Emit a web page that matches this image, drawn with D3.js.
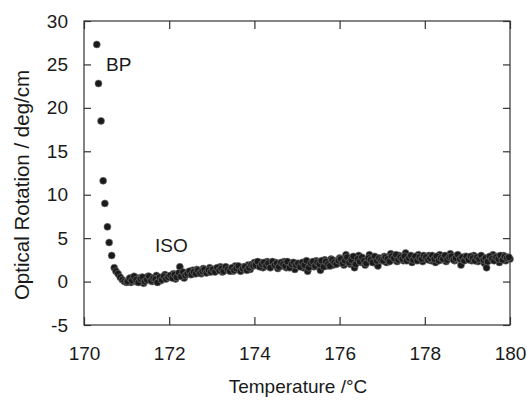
<!DOCTYPE html>
<meta charset="utf-8">
<script src="https://d3js.org/d3.v7.min.js"></script>
<style>
  body { margin: 0; background: #fff; }
  text { font-family: "Liberation Sans", Arial, sans-serif; fill: #1a1a1a; }
</style>
<div id="my_dataviz"></div>
<script>
// BP region: steep drop
var bpTemps = [170.30, 170.34, 170.40, 170.45, 170.49, 170.55, 170.59, 170.65, 170.71, 170.75];
var bpValues = [27.3, 22.8, 18.5, 11.6, 9.0, 6.3, 4.5, 3.0, 1.6, 1.2];

// ISO region: flat band
var isoTemps = [
  170.80, 170.85, 170.90, 170.95, 171.00,
  171.05, 171.10, 171.15, 171.20, 171.25, 171.30, 171.35, 171.40, 171.45, 171.50,
  171.55, 171.60, 171.65, 171.70, 171.75, 171.80, 171.85, 171.90, 171.95, 172.00,
  172.05, 172.10, 172.15, 172.20, 172.25, 172.30, 172.35, 172.40, 172.45, 172.50,
  172.55, 172.60, 172.65, 172.70, 172.75, 172.80, 172.85, 172.90, 172.95, 173.00,
  173.05, 173.10, 173.15, 173.20, 173.25, 173.30, 173.35, 173.40, 173.45, 173.50,
  173.55, 173.60, 173.65, 173.70, 173.75, 173.80, 173.85, 173.90, 173.95, 174.00,
  174.05, 174.10, 174.15, 174.20, 174.25, 174.30, 174.35, 174.40, 174.45, 174.50,
  174.55, 174.60, 174.65, 174.70, 174.75, 174.80, 174.85, 174.90, 174.95, 175.00,
  175.05, 175.10, 175.15, 175.20, 175.25, 175.30, 175.35, 175.40, 175.45, 175.50,
  175.55, 175.60, 175.65, 175.70, 175.75, 175.80, 175.85, 175.90, 175.95, 176.00,
  176.05, 176.10, 176.15, 176.20, 176.25, 176.30, 176.35, 176.40, 176.45, 176.50,
  176.55, 176.60, 176.65, 176.70, 176.75, 176.80, 176.85, 176.90, 176.95, 177.00,
  177.05, 177.10, 177.15, 177.20, 177.25, 177.30, 177.35, 177.40, 177.45, 177.50,
  177.55, 177.60, 177.65, 177.70, 177.75, 177.80, 177.85, 177.90, 177.95, 178.00,
  178.05, 178.10, 178.15, 178.20, 178.25, 178.30, 178.35, 178.40, 178.45, 178.50,
  178.55, 178.60, 178.65, 178.70, 178.75, 178.80, 178.85, 178.90, 178.95, 179.00,
  179.05, 179.10, 179.15, 179.20, 179.25, 179.30, 179.35, 179.40, 179.45, 179.50,
  179.55, 179.60, 179.65, 179.70, 179.75, 179.80, 179.85, 179.90, 179.95, 180.00
];
var isoValues = [
  0.9, 0.5, 0.2, 0.0, -0.1,
  0.2, -0.1, 0.3, 0.0, 0.4, 0.1, 0.5, -0.2, 0.3, 0.6,
  0.2, 0.0, 0.4, 0.7, 0.3, 0.1, 0.5, 0.8, 0.4, 0.6,
  0.5, 0.9, 0.3, 0.7, 1.7, 0.6, 0.4, 0.9, 1.1, 0.8,
  1.3, 1.0, 1.4, 1.2, 0.9, 1.5, 1.3, 1.1, 1.6, 1.4,
  1.2, 1.5, 1.3, 1.7, 1.1, 1.4, 1.6, 1.3, 1.5, 1.2,
  1.8, 1.4, 1.6, 1.3, 1.7, 1.5, 1.9, 1.4, 2.0, 2.2,
  2.1, 1.8, 2.2, 1.6, 2.0, 2.3, 1.7, 2.1, 1.9, 2.2,
  1.5, 2.0, 1.8, 2.3, 1.6, 2.1, 1.9, 2.2, 1.4, 2.0,
  1.8, 2.1, 1.6, 2.3, 1.2, 1.9, 2.2, 1.7, 2.4, 2.0,
  1.3, 2.1, 2.5, 1.8, 2.2, 2.6, 1.9, 2.4, 2.1, 2.7,
  2.3, 1.9, 3.1, 2.5, 2.0, 2.8, 1.6, 2.4, 3.0, 2.2,
  2.6, 1.9, 2.5, 3.1, 2.3, 2.7, 2.1, 1.8, 2.6, 2.4,
  2.9, 2.2, 2.6, 3.2, 2.5, 2.8, 2.3, 3.0, 2.7, 2.4,
  3.3, 2.6, 2.9, 2.2, 2.8, 2.5, 3.1, 2.7, 2.3, 2.9,
  2.6, 3.0, 2.4, 2.8, 2.2, 2.7, 3.1, 2.5, 2.9, 2.3,
  2.8, 3.2, 2.6, 2.4, 3.0, 2.7, 1.9, 2.5, 2.9, 2.6,
  2.8, 2.4, 3.0, 2.6, 2.3, 2.9, 2.7, 2.1, 1.6, 2.8,
  2.5, 3.1, 2.6, 2.9, 2.2, 2.7, 3.0, 2.4, 2.8, 2.6
];

// second, interleaved run of readings in the same band
var isoTemps2 = [
  171.025, 171.075, 171.125, 171.175, 171.225, 171.275, 171.325, 171.375, 171.425, 171.475,
  171.525, 171.575, 171.625, 171.675, 171.725, 171.775, 171.825, 171.875, 171.925, 171.975,
  172.025, 172.075, 172.125, 172.175, 172.225, 172.275, 172.325, 172.375, 172.425, 172.475,
  172.525, 172.575, 172.625, 172.675, 172.725, 172.775, 172.825, 172.875, 172.925, 172.975,
  173.025, 173.075, 173.125, 173.175, 173.225, 173.275, 173.325, 173.375, 173.425, 173.475,
  173.525, 173.575, 173.625, 173.675, 173.725, 173.775, 173.825, 173.875, 173.925, 173.975,
  174.025, 174.075, 174.125, 174.175, 174.225, 174.275, 174.325, 174.375, 174.425, 174.475,
  174.525, 174.575, 174.625, 174.675, 174.725, 174.775, 174.825, 174.875, 174.925, 174.975,
  175.025, 175.075, 175.125, 175.175, 175.225, 175.275, 175.325, 175.375, 175.425, 175.475,
  175.525, 175.575, 175.625, 175.675, 175.725, 175.775, 175.825, 175.875, 175.925, 175.975,
  176.025, 176.075, 176.125, 176.175, 176.225, 176.275, 176.325, 176.375, 176.425, 176.475,
  176.525, 176.575, 176.625, 176.675, 176.725, 176.775, 176.825, 176.875, 176.925, 176.975,
  177.025, 177.075, 177.125, 177.175, 177.225, 177.275, 177.325, 177.375, 177.425, 177.475,
  177.525, 177.575, 177.625, 177.675, 177.725, 177.775, 177.825, 177.875, 177.925, 177.975,
  178.025, 178.075, 178.125, 178.175, 178.225, 178.275, 178.325, 178.375, 178.425, 178.475,
  178.525, 178.575, 178.625, 178.675, 178.725, 178.775, 178.825, 178.875, 178.925, 178.975,
  179.025, 179.075, 179.125, 179.175, 179.225, 179.275, 179.325, 179.375, 179.425, 179.475,
  179.525, 179.575, 179.625, 179.675, 179.725, 179.775, 179.825, 179.875, 179.925, 179.975
];
var isoValues2 = [
  0.0, 0.4, 0.1, 0.6, 0.2, -0.1, 0.3, 0.5, 0.0, 0.2, 0.6, 0.1, 0.4, 0.3, -0.1, 0.5, 0.2, 0.6, 0.3, 0.5,
  0.7, 0.4, 0.8, 0.5, 1.0, 0.6, 1.1, 0.7, 0.9, 1.2, 0.8, 1.1, 0.9, 1.3, 1.0, 1.2, 1.4, 1.0, 1.3, 1.1,
  1.4, 1.1, 1.6, 1.3, 1.5, 1.2, 1.7, 1.4, 1.2, 1.6, 1.3, 1.5, 1.8, 1.2, 1.5, 1.7, 1.3, 1.6, 1.9, 1.8,
  1.9, 2.3, 1.7, 2.0, 2.2, 1.8, 2.1, 1.6, 2.3, 1.9, 2.1, 1.7, 2.2, 2.0, 1.8, 2.3, 1.6, 2.0, 2.2, 1.9,
  2.1, 1.7, 2.2, 1.9, 2.4, 1.6, 2.1, 2.3, 1.8, 2.2, 2.0, 2.4, 1.7, 2.3, 2.0, 1.8, 2.5, 2.2, 2.0, 2.4,
  2.6, 2.1, 2.4, 2.8, 2.2, 2.5, 2.9, 2.0, 2.6, 2.3, 2.8, 2.4, 2.1, 2.7, 2.5, 2.2, 2.9, 2.4, 2.7, 2.5,
  2.4, 2.8, 2.6, 2.3, 2.9, 2.7, 3.1, 2.5, 2.8, 2.6, 2.9, 2.4, 2.7, 3.0, 2.5, 2.9, 2.4, 2.8, 2.6, 3.0,
  2.8, 2.5, 2.7, 3.0, 2.6, 2.9, 2.4, 2.7, 2.6, 3.0, 2.5, 2.8, 2.9, 2.5, 2.7, 3.1, 2.6, 2.8, 2.4, 2.9,
  2.5, 2.9, 2.7, 2.4, 2.8, 2.6, 3.0, 2.5, 2.7, 2.3, 2.9, 2.6, 2.4, 2.8, 2.6, 3.0, 2.5, 2.9, 2.7, 2.8
];

var xTicks = [170, 172, 174, 176, 178, 180];
var yTicks = [-5, 0, 5, 10, 15, 20, 25, 30];

var width = 527, height = 404;
var margin = { left: 84, right: 17, top: 21, bottom: 79 };

var xScale = d3.scaleLinear().domain([170, 180]).range([margin.left, width - margin.right]);
var yScale = d3.scaleLinear().domain([-5, 30]).range([height - margin.bottom, margin.top]);

var svg = d3.select("#my_dataviz")
  .append("svg")
  .attr("width", width)
  .attr("height", height);

// frame
svg.append("rect")
  .attr("x", margin.left)
  .attr("y", margin.top)
  .attr("width", width - margin.left - margin.right)
  .attr("height", height - margin.top - margin.bottom)
  .attr("fill", "none")
  .attr("stroke", "#333")
  .attr("stroke-width", 1.2);

// axes, ticks pointing inward
var xAxis = d3.axisBottom(xScale).tickValues(xTicks).tickSize(-8).tickPadding(22).tickFormat(d3.format("d"));
var yAxis = d3.axisLeft(yScale).tickValues(yTicks).tickSize(-7).tickPadding(16)
  .tickFormat(function (d) { return String(d); }); // plain hyphen for -5

svg.append("g")
  .attr("transform", `translate(0,${height - margin.bottom})`)
  .call(xAxis);

svg.append("g")
  .attr("transform", `translate(${margin.left},0)`)
  .call(yAxis);

// mirrored ticks on top and right
svg.append("g")
  .attr("transform", `translate(0,${margin.top})`)
  .call(d3.axisTop(xScale).tickValues(xTicks).tickSize(-8).tickFormat(""));

svg.append("g")
  .attr("transform", `translate(${width - margin.right},0)`)
  .call(d3.axisRight(yScale).tickValues(yTicks).tickSize(-7).tickFormat(""));

svg.selectAll(".domain").remove();
svg.selectAll(".tick line").attr("stroke", "#333").attr("stroke-width", 1.2);
svg.selectAll(".tick text").style("font-size", "19px").attr("fill", "#1a1a1a");

// points
var points = bpTemps.map(function (t, i) { return [t, bpValues[i]]; })
  .concat(isoTemps.map(function (t, i) { return [t, isoValues[i]]; }))
  .concat(isoTemps2.map(function (t, i) { return [t, isoValues2[i]]; }));

svg.append("g")
  .selectAll("circle")
  .data(points)
  .enter()
  .append("circle")
  .attr("cx", function (d) { return xScale(d[0]); })
  .attr("cy", function (d) { return yScale(d[1]); })
  .attr("r", 3.5)
  .attr("fill", "#1a1a1a")
  .attr("stroke", "#777")
  .attr("stroke-width", 0.6);

// annotations
svg.append("text")
  .attr("x", 106)
  .attr("y", 71)
  .style("font-size", "19px")
  .text("BP");

svg.append("text")
  .attr("x", 155)
  .attr("y", 252)
  .style("font-size", "19px")
  .text("ISO");

// axis titles
svg.append("text")
  .attr("text-anchor", "middle")
  .attr("x", 298)
  .attr("y", 393)
  .style("font-size", "19px")
  .text("Temperature /°C");

svg.append("text")
  .attr("text-anchor", "middle")
  .attr("transform", "translate(29,185) rotate(-90)")
  .style("font-size", "20.5px")
  .text("Optical Rotation / deg/cm");
</script>
